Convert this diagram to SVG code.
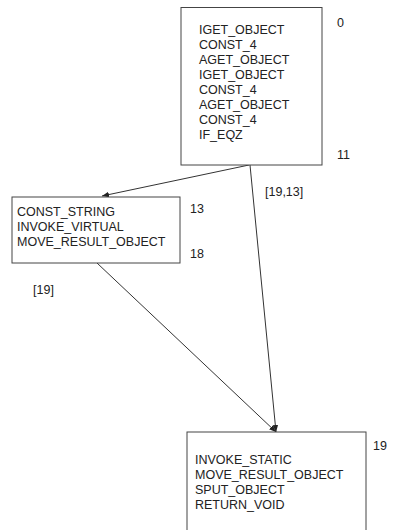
<svg xmlns="http://www.w3.org/2000/svg" width="393" height="530" viewBox="0 0 393 530">
<style>
text{font-family:"Liberation Sans",Arial,sans-serif;font-size:12.5px;fill:#222}
.box{fill:#fff;stroke:#444;stroke-width:1}
.edge{fill:none;stroke:#333;stroke-width:1}
</style>
<defs>
<marker id="ah" viewBox="0 0 10 10" refX="10" refY="5" markerWidth="7" markerHeight="7" markerUnits="userSpaceOnUse" orient="auto">
<path d="M0,1 L10,5 L0,9 Z" fill="#222"/>
</marker>
</defs>
<rect width="393" height="530" fill="#fff"/>
<g id="connectors">
<line class="edge" x1="249" y1="165" x2="102" y2="196" marker-end="url(#ah)"/>
<line class="edge" x1="250" y1="165" x2="276" y2="432" marker-end="url(#ah)"/>
<line class="edge" x1="97" y1="263" x2="276" y2="432" marker-end="url(#ah)"/>
<text x="265" y="196">[19,13]</text>
<text x="33" y="294">[19]</text>
</g>
<g id="node0">
<rect class="box" x="181" y="7.5" width="141" height="157.5"/>
<text x="199" y="34">IGET_OBJECT</text>
<text x="199" y="49">CONST_4</text>
<text x="199" y="64">AGET_OBJECT</text>
<text x="199" y="79">IGET_OBJECT</text>
<text x="199" y="94">CONST_4</text>
<text x="199" y="109">AGET_OBJECT</text>
<text x="199" y="124">CONST_4</text>
<text x="199" y="139">IF_EQZ</text>
<text x="337" y="27">0</text>
<text x="337" y="159">11</text>
</g>
<g id="node13">
<rect class="box" x="12" y="197" width="168" height="66"/>
<text x="17" y="216">CONST_STRING</text>
<text x="17" y="231">INVOKE_VIRTUAL</text>
<text x="17" y="246">MOVE_RESULT_OBJECT</text>
<text x="190" y="213">13</text>
<text x="190" y="258">18</text>
</g>
<g id="node19">
<rect class="box" x="187" y="432" width="179" height="110"/>
<text x="195" y="464">INVOKE_STATIC</text>
<text x="195" y="479">MOVE_RESULT_OBJECT</text>
<text x="195" y="494">SPUT_OBJECT</text>
<text x="195" y="509">RETURN_VOID</text>
<text x="373" y="450">19</text>
</g>
</svg>
